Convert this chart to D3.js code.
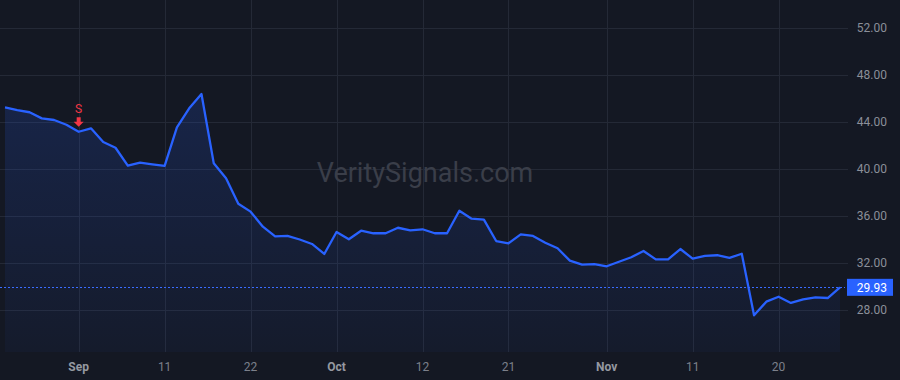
<!DOCTYPE html>
<html>
<head>
<meta charset="utf-8">
<script src="https://cdn.jsdelivr.net/npm/d3@7/dist/d3.min.js"></script>
<style>
  body { margin: 0; background: #141823; }
  svg { display: block; font-family: "Trebuchet MS", Roboto, "Liberation Sans", sans-serif; }
</style>
</head>
<body>
<svg id="chart" width="900" height="380"></svg>
<script>
// closing prices, one per trading day
const prices = [
  45.25, 45.02, 44.83, 44.31, 44.17, 43.77, 43.17, 43.46, 42.30, 41.81,
  40.28, 40.54, 40.40, 40.26, 43.55, 45.17, 46.38, 40.49, 39.21, 37.05,
  36.37, 35.09, 34.27, 34.30, 34.00, 33.62, 32.77, 34.64, 34.02, 34.75,
  34.53, 34.53, 35.00, 34.78, 34.87, 34.53, 34.53, 36.45, 35.77, 35.69,
  33.87, 33.68, 34.44, 34.30, 33.73, 33.25, 32.20, 31.86, 31.91, 31.72,
  32.11, 32.49, 33.02, 32.31, 32.31, 33.19, 32.37, 32.60, 32.66, 32.43,
  32.79, 27.55, 28.71, 29.13, 28.60, 28.91, 29.08, 29.02, 29.93
];

// time axis labels (index into prices)
const tickIndex = [6, 13, 20, 27, 34, 41, 49, 56, 63];
const tickLabels = ["Sep", "11", "22", "Oct", "12", "21", "Nov", "11", "20"];
const monthLabels = ["Sep", "Oct", "Nov"];

// price axis
const priceTicks = [28, 32, 36, 40, 44, 48, 52];
const lastPrice = 29.93;

// sell marker
const sellIndex = 6;
const sellText = "S";

const plotW = 845, plotH = 352;

const svg = d3.select("#chart");

const x = d3.scaleLinear().domain([0, prices.length - 1]).range([5, 840]);
const y = d3.scaleLinear().domain([28, 52]).range([310, 28]);

// gradient for the area
const defs = svg.append("defs");
const grad = defs.append("linearGradient")
  .attr("id", "fill")
  .attr("gradientUnits", "userSpaceOnUse")
  .attr("x1", 0).attr("x2", 0)
  .attr("y1", y(d3.max(prices))).attr("y2", plotH);
grad.append("stop").attr("offset", 0).attr("stop-color", "#2962ff").attr("stop-opacity", 0.17);
grad.append("stop").attr("offset", 1).attr("stop-color", "#2962ff").attr("stop-opacity", 0.04);

// grid
const grid = svg.append("g").attr("stroke", "#242936").attr("stroke-width", 1);
grid.selectAll("line.h")
  .data(priceTicks)
  .enter().append("line")
  .attr("x1", 0).attr("x2", 848)
  .attr("y1", d => Math.round(y(d)) + 0.5)
  .attr("y2", d => Math.round(y(d)) + 0.5);
grid.selectAll("line.v")
  .data(tickIndex)
  .enter().append("line")
  .attr("y1", 0).attr("y2", plotH)
  .attr("x1", d => Math.round(x(d)) + 0.5)
  .attr("x2", d => Math.round(x(d)) + 0.5);

// watermark
svg.append("text")
  .attr("x", 425).attr("y", 182)
  .attr("text-anchor", "middle")
  .attr("font-size", 27)
  .attr("fill", "#3a3e49")
  .text("VeritySignals.com");

// area + line
const area = d3.area()
  .x((d, i) => x(i))
  .y0(plotH)
  .y1(d => y(d));
svg.append("path")
  .datum(prices)
  .attr("d", area)
  .attr("fill", "url(#fill)");

const line = d3.line()
  .x((d, i) => x(i))
  .y(d => y(d));
svg.append("path")
  .datum(prices)
  .attr("d", line)
  .attr("fill", "none")
  .attr("stroke", "#2962ff")
  .attr("stroke-width", 2.3)
  .attr("stroke-linejoin", "round");

// last price dotted line
svg.append("line")
  .attr("x1", 0).attr("x2", plotW)
  .attr("y1", Math.round(y(lastPrice)) + 0.5)
  .attr("y2", Math.round(y(lastPrice)) + 0.5)
  .attr("stroke", "#3a6cff")
  .attr("stroke-width", 1)
  .attr("stroke-dasharray", "2,2");

// sell marker
const sx = x(sellIndex), sy = y(prices[sellIndex]);
svg.append("path")
  .attr("d", `M${sx - 2},${sy - 14.5} h4 v4.5 h3 l-5,5 l-5,-5 h3 z`)
  .attr("fill", "#f23645");
svg.append("text")
  .attr("x", sx).attr("y", sy - 19)
  .attr("text-anchor", "middle")
  .attr("font-size", 12)
  .attr("fill", "#f23645")
  .text(sellText);

// price axis labels
svg.append("g").selectAll("text")
  .data(priceTicks)
  .enter().append("text")
  .attr("x", 887).attr("y", d => y(d))
  .attr("dy", "0.35em")
  .attr("text-anchor", "end")
  .attr("font-size", 12)
  .attr("fill", "#8b8f99")
  .text(d => d.toFixed(2));

// last price label
const ly = y(lastPrice);
svg.append("rect")
  .attr("x", 847).attr("y", ly - 8.5)
  .attr("width", 46).attr("height", 17)
  .attr("fill", "#2962ff");
svg.append("text")
  .attr("x", 887).attr("y", ly)
  .attr("dy", "0.35em")
  .attr("text-anchor", "end")
  .attr("font-size", 12)
  .attr("fill", "#ffffff")
  .text(lastPrice.toFixed(2));

// time axis labels
svg.append("g").selectAll("text")
  .data(tickIndex)
  .enter().append("text")
  .attr("x", d => x(d))
  .attr("y", 367)
  .attr("dy", "0.35em")
  .attr("text-anchor", "middle")
  .attr("font-size", 12)
  .attr("font-weight", (d, i) => monthLabels.includes(tickLabels[i]) ? "bold" : "normal")
  .attr("fill", (d, i) => monthLabels.includes(tickLabels[i]) ? "#9598a1" : "#7c808b")
  .text((d, i) => tickLabels[i]);
</script>
</body>
</html>
